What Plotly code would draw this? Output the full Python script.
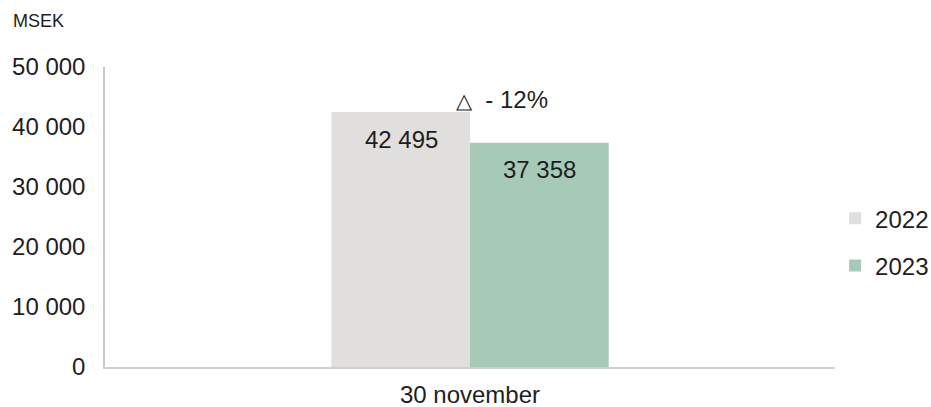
import plotly.graph_objects as go

categories = ["30 november"]
series_names = ["2022", "2023"]
values_2022 = [42495]
values_2023 = [37358]
colors = ["#e0dfdd", "#a7c9b8"]
y_ticks = [0, 10000, 20000, 30000, 40000, 50000]
y_tick_labels = ["0", "10 000", "20 000", "30 000", "40 000", "50 000"]

FONT = "Liberation Sans, Arial, sans-serif"
TXT = "#1e1e1e"

def fmt(v):
    return f"{v:,}".replace(",", " ")

fig = go.Figure()
for i, (name, vals) in enumerate(zip(series_names, [values_2022, values_2023])):
    fig.add_trace(go.Bar(
        x=categories, y=vals, name=name, marker_color=colors[i],
        marker_line_width=0, legendgroup=name, hoverinfo="skip",
    ))

# value labels inside bars near top
for i, vals in enumerate([values_2022, values_2023]):
    for c, v in zip(categories, vals):
        fig.add_annotation(x=c, y=v, text=fmt(v), showarrow=False,
                           xshift=-69 if i == 0 else 69, yshift=-27,
                           yanchor="middle",
                           font=dict(family=FONT, size=24, color=TXT))

change = (values_2023[0] - values_2022[0]) / values_2022[0] * 100
fig.add_annotation(x=categories[0], y=values_2022[0],
                   text=f"<span style='font-size:21px'>\u25b3</span>  - {abs(round(change)):.0f}%",
                   showarrow=False, xshift=32, yshift=13, yanchor="middle",
                   font=dict(family=FONT, size=24, color=TXT))

fig.add_annotation(xref="paper", yref="paper", x=0, y=1, xshift=-94, yshift=46,
                   xanchor="left", yanchor="middle", text="MSEK", showarrow=False,
                   font=dict(family=FONT, size=18, color=TXT))

fig.update_layout(
    width=931, height=407,
    margin=dict(l=105, r=96, t=67, b=40, autoexpand=False),
    plot_bgcolor="white", paper_bgcolor="white",
    barmode="group", bargap=0.62, bargroupgap=0,
    font=dict(family=FONT, size=24, color=TXT),
    showlegend=True,
    legend=dict(xref="container", x=0.897, xanchor="left",
                yref="container", y=0.405, yanchor="middle",
                font=dict(family=FONT, size=24, color=TXT),
                tracegroupgap=13, bgcolor="rgba(0,0,0,0)"),
    xaxis=dict(showline=True, linecolor="#d0d0d0", linewidth=2, automargin=False,
               showgrid=False, ticks="", ticklabelstandoff=5, fixedrange=True),
    yaxis=dict(range=[0, 50000], tickvals=y_ticks, ticktext=y_tick_labels,
               showline=True, linecolor="#c8c8c8", linewidth=1.5, automargin=False,
               showgrid=False, zeroline=False, ticks="", ticklabelstandoff=13,
               fixedrange=True),
)

fig.write_html("out.html", config={"displayModeBar": False},
               post_script="document.body.style.margin='0';document.body.style.overflow='hidden';")
